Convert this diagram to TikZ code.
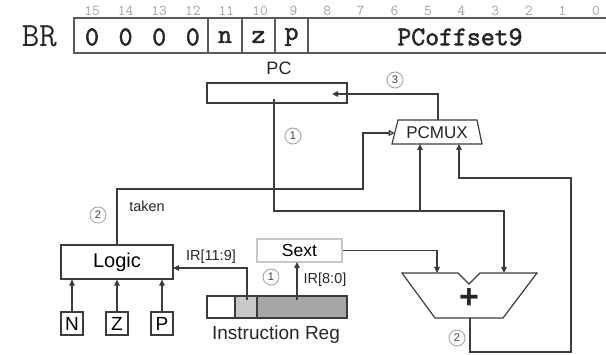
\documentclass[tikz,border=0pt]{standalone}
\usepackage{fontspec}
\setmainfont{Liberation Sans}
\newfontfamily\fieldmono{Latin Modern Mono}[FakeBold=2]
\usetikzlibrary{arrows.meta}
\definecolor{linec}{HTML}{3C3C3C}
\definecolor{brc}{HTML}{5A5A5A}
\definecolor{lgrey}{HTML}{C8C8C8}
\definecolor{dgrey}{HTML}{A6A6A6}
\definecolor{bitc}{HTML}{A0A0A0}
\definecolor{circc}{HTML}{A0A0A0}
\tikzset{
  wire/.style={draw=linec, line width=1.2pt},
  arr/.style={wire, -{Triangle[length=6pt,width=5.5pt]}},
  oarr/.style={wire, -{Triangle[open,length=6pt,width=6pt]}},
  blk/.style={draw=linec, line width=1.2pt, inner sep=0pt, fill=white},
  field/.style={draw=brc, line width=1.8pt, minimum height=35pt, inner sep=0pt},
  ftext/.style={font=\fieldmono\fontsize{27}{27}\selectfont, text=black!85, inner sep=0pt},
  bitnum/.style={font=\ttfamily\fontsize{15}{15}\selectfont, text=bitc, inner sep=0pt},
  numc/.style={circle, draw=circc, line width=0.8pt, minimum size=16pt, inner sep=0pt,
    font=\fontsize{11}{11}\selectfont, text=black!75},
  lbl/.style={inner sep=0pt, text=black!85},
}
\begin{document}
\begin{tikzpicture}[x=1pt,y=-1pt]
\useasboundingbox (0,0) rectangle (606,355);
\clip (0,0) rectangle (606,355);

% ---------- instruction format ----------
\node[lbl, font=\ttfamily\fontsize{34}{34}\selectfont] (br) at (39.5,36) {BR};
\node[field, minimum width=134pt] (fzero) at (141,35.5) {};
\node[field, minimum width=34pt] (fn) at (225,35.5) {};
\node[field, minimum width=33pt] (fz) at (258.5,35.5) {};
\node[field, minimum width=33pt] (fp) at (291.5,35.5) {};
\node[field, minimum width=305pt] (foff) at (460.5,35.5) {};
\foreach \i/\x in {a/92,b/125.6,c/159.2,d/192.8}
  \node[ftext] (z\i) at (\x,37) {0};
\node[ftext] (tn) at (225,37) {n};
\node[ftext] (tz) at (258.5,37) {z};
\node[ftext] (tp) at (291.5,37) {p};
\node[ftext] (toff) at (460,37) {PCoffset9};
\foreach \i in {0,...,15}
  \node[bitnum, anchor=base] (bit\i) at ({92+(15-\i)*33.6},15.5) {\i};

% ---------- blocks ----------
\node[lbl, font=\fontsize{18}{18}\selectfont] (pclbl) at (279,68.5) {PC};
\node[blk, minimum width=140pt, minimum height=20pt] (pc) at (277,93) {};

\draw[wire, fill=white] (398,120) -- (477,120) -- (482,144) -- (392,144) -- cycle;
\node[lbl, font=\fontsize{17}{17}\selectfont] (pcmux) at (437,132.5) {PCMUX};

\node[blk, minimum width=112pt, minimum height=34pt, font=\fontsize{20}{20}\selectfont] (logic) at (117,262) {Logic};
\foreach \n/\x/\t in {nb/72/N, zb/117/Z, pb/162/P}
  \node[blk, minimum width=22pt, minimum height=23pt, font=\fontsize{19}{19}\selectfont] (\n) at (\x,323.5) {\t};

\node[blk, draw=lgrey, minimum width=85pt, minimum height=23pt, font=\fontsize{17.5}{17.5}\selectfont] (sext) at (299.5,250.5) {Sext};

\node[blk, minimum width=28pt, minimum height=22pt] (ir1) at (221,307) {};
\node[blk, fill=lgrey, minimum width=22pt, minimum height=22pt] (ir2) at (246,307) {};
\node[blk, fill=dgrey, minimum width=90pt, minimum height=22pt] (ir3) at (302,307) {};
\node[lbl, font=\fontsize{19}{19}\selectfont] (irlbl) at (276,335) {Instruction Reg};

\draw[wire, fill=white] (402,273) -- (458,273) -- (469,284) -- (480,273) -- (537,273)
  -- (503,318) -- (435,318) -- cycle;
\node[lbl, font=\bfseries\fontsize{34}{34}\selectfont] (plus) at (469,299) {+};

% ---------- coordinates ----------
\coordinate (muxtop) at (438,120);
\coordinate (pcin) at (332,94);
\coordinate (pcout) at (274,99);
\coordinate (j1) at (274,211);
\coordinate (j2) at (504,211);
\coordinate (addr) at (504,273);
\coordinate (addl) at (437,273);
\coordinate (mux1) at (420,144);
\coordinate (mux1s) at (420,211);
\coordinate (mux2) at (459,144);
\coordinate (addout) at (470,318);
\coordinate (muxl) at (394.7,133);
\coordinate (irA) at (247,300);
\coordinate (logicin) at (173,268);
\coordinate (irB) at (297,300);
\coordinate (sextin) at (297,262);

% ---------- connectors ----------
\draw[arr] (muxtop) |- (pcin);
\draw[arr] (pcout) -- (j1) -- (j2) -- (addr);
\draw[arr] (mux1s) -- (mux1);
\draw[arr] (addout) -- (470,352) -- (571,352) -- (571,178) -- (459,178) -- (mux2);
\draw[oarr] (logic.north) -- (117,189) -- (363,189) -- (363,133) -- (muxl);
\draw[arr] (sext.east) -| (addl);
\draw[arr] (irA) |- (logicin);
\draw[arr] (irB) -- (sextin);
\foreach \n in {nb,zb,pb}
  \draw[arr] (\n.north) -- (\n.north |- logic.south);

% ---------- labels ----------
\node[lbl, font=\fontsize{14.5}{14.5}\selectfont] (taken) at (147,206) {taken};
\node[lbl, font=\fontsize{14.5}{14.5}\selectfont] (ir119) at (211,257) {IR[11:9]};
\node[lbl, font=\fontsize{14.5}{14.5}\selectfont] (ir80) at (325,280) {IR[8:0]};

\node[numc] (c3) at (395,80) {3};
\node[numc] (c1a) at (293,136) {1};
\node[numc] (c2a) at (98,215) {2};
\node[numc] (c1b) at (271,277) {1};
\node[numc] (c2b) at (457,338) {2};
\end{tikzpicture}
\end{document}
